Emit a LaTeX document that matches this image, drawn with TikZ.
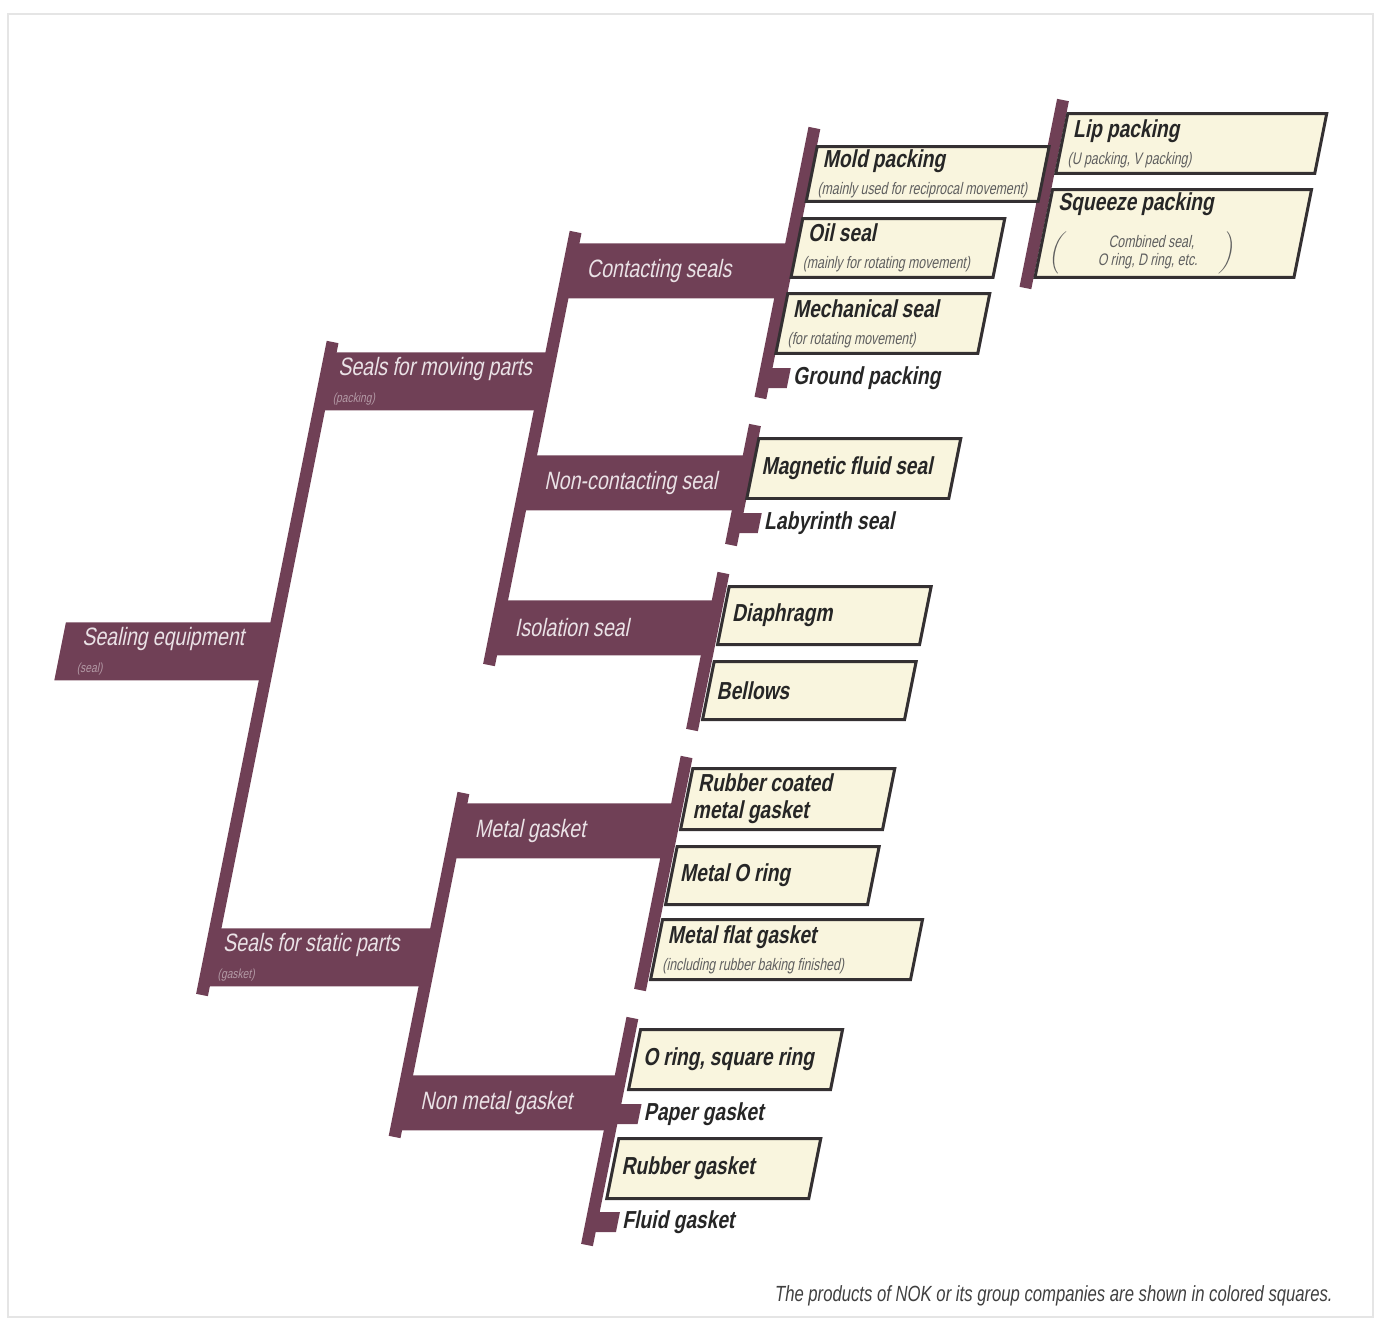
\documentclass[tikz,border=0pt]{standalone}
\usepackage{fontspec}
\setsansfont[FakeStretch=0.78]{Liberation Sans}
\newfontfamily\subfamily[FakeStretch=0.74]{Liberation Sans}
\newfontfamily\notefont[FakeStretch=0.76]{Liberation Sans}
\usetikzlibrary{positioning}

\definecolor{sealbar}{RGB}{112,64,86}
\definecolor{bartext}{RGB}{234,226,230}
\definecolor{boxfill}{RGB}{249,245,222}
\definecolor{boxline}{RGB}{52,48,50}
\definecolor{subgray}{RGB}{95,95,95}

\newcommand{\tightspace}{\spaceskip 0.2em\relax}
\newcommand{\ttlfont}{\sffamily\bfseries\fontsize{14}{15.5}\selectfont}
\newcommand{\subtxt}{\subfamily\mdseries\fontsize{9.5}{11}\selectfont\tightspace\color{subgray}}
\newcommand{\barsub}{\fontsize{7.5}{9}\selectfont\color{bartext!55!sealbar}}

\tikzset{
  spine/.style={draw=sealbar, line width=0.24cm},
  catbar/.style={fill=sealbar, text=bartext, anchor=north west, transform shape,
    inner ysep=0pt, font=\sffamily\fontsize{14.3}{15.5}\selectfont,
    execute at begin node=\tightspace},
  rootbar/.style={catbar, minimum width=4.22cm, minimum height=1.16cm, inner xsep=0.42cm, text width=3.38cm},
  midbar/.style={catbar, minimum width=4.42cm, minimum height=1.16cm, inner xsep=0.24cm, text width=3.94cm},
  subbar/.style={catbar, minimum width=4.36cm, minimum height=1.1cm, inner xsep=0.4cm, text width=3.56cm},
  leaf/.style={draw=boxline, fill=boxfill, line width=0.06cm, anchor=north west, transform shape,
    minimum width=4.04cm, minimum height=1.18cm, inner xsep=0.2cm, inner ysep=0pt,
    text width=3.64cm, font=\ttlfont, text=black!85,
    execute at begin node=\tightspace},
  stub/.style={fill=sealbar, anchor=west, minimum width=0.52cm, minimum height=0.4cm, inner sep=0pt, transform shape},
  stubtext/.style={font=\ttlfont, text=black!85, inner sep=0pt, transform shape}
}

\begin{document}
\begin{tikzpicture}[x=0.02cm, y=-0.02cm]
  \useasboundingbox (0,0) rectangle (1383,1323);
  \draw[black!10, line width=0.05cm] (8,14) rectangle (1373,1317);

  \begin{scope}[xslant=0.2]
    % spines
    \coordinate (t1) at (401,342);  \coordinate (b1) at (401,995);
    \coordinate (t2) at (622,232);  \coordinate (b2) at (622,665);
    \coordinate (t3) at (840,128);  \coordinate (b3) at (840,398);
    \coordinate (t4) at (622,793);  \coordinate (b4) at (622,1137);
    \coordinate (t5) at (1083,100); \coordinate (b5) at (1083,288);
    \coordinate (t6) at (840,425);  \coordinate (b6) at (840,545);
    \coordinate (t7) at (838,573);  \coordinate (b7) at (838,730);
    \coordinate (t8) at (838,757);  \coordinate (b8) at (838,990);
    \coordinate (t9) at (836,1018); \coordinate (b9) at (836,1245);
    \foreach \s in {1,...,9}
      \draw[spine] (t\s) -- (b\s);

    % categories
    \node[rootbar] (seal) at (190,622) {Sealing equipment\\{\barsub (seal)}};
    \node[midbar] (moving) at (401,352) {Seals for moving parts\\{\barsub (packing)}};
    \node[midbar] (static) at (401,928) {Seals for static parts\\{\barsub (gasket)}};
    \node[subbar] (contact) at (622,243) {Contacting seals};
    \node[subbar] (noncontact) at (622,455) {Non-contacting seal};
    \node[subbar] (isolation) at (622,600) {Isolation seal};
    \node[subbar] (metal) at (622,803) {Metal gasket};
    \node[subbar] (nonmetal) at (622,1075) {Non metal gasket};

    % contacting seals
    \node[leaf, minimum width=4.64cm, text width=4.24cm, minimum height=1.1cm] (mold) at (845,145)
      {Mold packing\\{\subtxt (mainly used for reciprocal movement)}};
    \node[leaf] (oil) at (845,217) {Oil seal\\{\subtxt (mainly for rotating movement)}};
    \node[leaf, minimum height=1.2cm] (mech) at (845,292) {Mechanical seal\\{\subtxt (for rotating movement)}};
    \node[stub] (ground) at (838,378) {};
    \node[stubtext, right=0.1cm of ground] (groundt) {Ground packing};

    % mold packing
    \node[leaf, minimum width=5.18cm, text width=4.78cm, minimum height=1.2cm] (lip) at (1089,112)
      {Lip packing\\{\subtxt (U packing, V packing)}};
    \node[leaf, minimum width=5.18cm, text width=4.78cm, minimum height=1.76cm] (squeeze) at (1089,188)
      {Squeeze packing\\[8pt]
       {\subtxt\renewcommand{\arraystretch}{0.95}$\left(\hspace{0.75cm}\vcenter{\hbox{\begin{tabular}{@{}c@{}}Combined seal,\\O ring, D ring, etc.\end{tabular}}}\hspace{0.45cm}\right)$}};

    % non-contacting seal
    \node[leaf, minimum height=1.2cm] (magnetic) at (845,437) {Magnetic fluid seal};
    \node[stub] (labyrinth) at (838,523) {};
    \node[stubtext, right=0.1cm of labyrinth] (labyrintht) {Labyrinth seal};

    % isolation seal
    \node[leaf, minimum height=1.16cm] (diaphragm) at (845,585) {Diaphragm};
    \node[leaf, minimum height=1.16cm] (bellows) at (845,660) {Bellows};

    % metal gasket
    \node[leaf, minimum height=1.22cm] (rubbercoat) at (845,767) {Rubber coated\\metal gasket};
    \node[leaf, minimum height=1.16cm] (metalo) at (845,845) {Metal O ring};
    \node[leaf, minimum width=5.2cm, text width=4.8cm, minimum height=1.2cm] (metalflat) at (845,918)
      {Metal flat gasket\\{\subtxt (including rubber baking finished)}};

    % non metal gasket
    \node[leaf, minimum height=1.2cm] (oring) at (845,1028) {O ring, square ring};
    \node[stub] (paper) at (836,1114) {};
    \node[stubtext, right=0.1cm of paper] (papert) {Paper gasket};
    \node[leaf, minimum height=1.2cm] (rubber) at (845,1137) {Rubber gasket};
    \node[stub] (fluid) at (836,1222) {};
    \node[stubtext, right=0.1cm of fluid] (fluidt) {Fluid gasket};
  \end{scope}

  \node[font=\notefont\itshape\fontsize{12.5}{14}\selectfont, text=black!75, anchor=east, inner sep=0pt] (note)
    at (1333,1296) {The products of NOK or its group companies are shown in colored squares.};
\end{tikzpicture}
\end{document}
